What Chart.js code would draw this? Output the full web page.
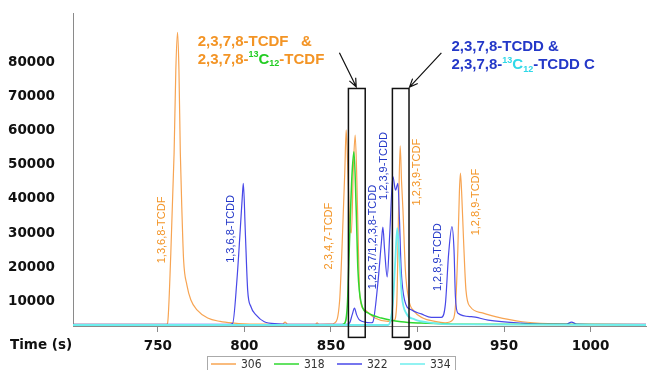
<!DOCTYPE html>
<html>
<head>
<meta charset="utf-8">
<script src="https://cdn.jsdelivr.net/npm/chart.js@4"></script>
<style>
  body { margin: 0; background: #fff; }
</style>
</head>
<body>
<canvas id="chrom" width="647" height="370"></canvas>
<script>
// Retention time (s) and intensity for each m/z trace
const t306 = [701, 740, 755, 755.6, 757.5, 759.4, 760.4, 761.4, 762.2, 763.0, 764.0, 764.9, 766.8, 769.1, 772.6, 778.8, 786, 794, 800, 810, 822, 823.5, 825, 841, 842, 843, 850, 852, 855, 856.5, 858, 858.8, 859.8, 860.8, 861.8, 863, 864, 865, 865.8, 866.7, 869.6, 875.4, 883, 886.5, 888, 889.2, 890.0, 890.8, 891.6, 893, 895, 898, 903, 910, 916, 920.5, 922, 923.3, 924.2, 924.8, 925.5, 926.6, 928, 930.5, 937.5, 945, 960.5, 980, 990, 1032];
const v306 = [3100, 3100, 3150, 3400, 24000, 53500, 78000, 89000, 78000, 53500, 35000, 22000, 14700, 10300, 7400, 5000, 4000, 3500, 3300, 3200, 3150, 3800, 3150, 3150, 3600, 3150, 3200, 3500, 10000, 27000, 48000, 60300, 48000, 33000, 30000, 50000, 58800, 45000, 27000, 11200, 7400, 5000, 4000, 4300, 9000, 40000, 55600, 45000, 36800, 19100, 10300, 7000, 5000, 4000, 3600, 4500, 9000, 25000, 42000, 47600, 42000, 28000, 13200, 8300, 6500, 5400, 3900, 3300, 3150, 3100];

const t318 = [701, 855, 857.8, 859.5, 860.7, 862.1, 863.3, 864.6, 865.6, 867.5, 871.4, 879.1, 890.6, 902.2, 915, 925, 1032];
const v318 = [3000, 3000, 3400, 9000, 27000, 46500, 53900, 36800, 19100, 9400, 6500, 5000, 3900, 3500, 3300, 3150, 3050];

const t322 = [701, 790, 793.2, 795.7, 797.6, 798.8, 799.4, 800.5, 801.9, 803.8, 806.7, 811.5, 819.3, 830, 858, 860.7, 862.3, 863.6, 864.8, 866.5, 873.3, 874.2, 877.1, 879.1, 880.0, 881.0, 882.5, 884, 885.8, 887.3, 888.7, 889.6, 890.6, 892.5, 896.4, 902.2, 908, 913.8, 916.1, 918, 919.9, 921.1, 921.9, 923.4, 931.1, 940.8, 960.1, 975, 986, 989, 992, 1032];
const v322 = [3100, 3100, 3400, 16200, 30900, 40700, 44600, 30900, 13200, 8300, 5900, 3900, 3300, 3100, 3100, 3500, 6000, 7900, 6000, 4400, 3600, 3800, 15200, 27000, 31700, 25000, 17100, 30000, 46600, 42600, 44600, 33800, 19100, 10300, 7400, 6200, 5200, 5200, 9000, 24000, 31900, 25000, 11300, 6400, 5400, 4400, 3500, 3200, 3200, 3800, 3200, 3100];

const t334 = [701, 883, 884.5, 885.8, 887.2, 888.3, 889.6, 891.0, 893.5, 898.3, 908, 920, 1032];
const v334 = [2950, 2950, 4500, 9300, 22100, 31400, 22100, 11300, 6400, 4600, 3600, 3100, 2950];

const xTicks = [750, 800, 850, 900, 950, 1000];
const yTicks = [10000, 20000, 30000, 40000, 50000, 60000, 70000, 80000];

const ORANGE = '#f39425', GREEN = '#22cc22', BLUE = '#2438c8', CYAN = '#2fd8e8';
const AXIS_FONT = { family: '"DejaVu Sans", Verdana, sans-serif', size: 13.5, weight: 'bold' };

function trace(label, ts, vs, color, order, width) {
  return {
    label,
    data: ts.map((t, i) => ({ x: t, y: vs[i] })),
    borderColor: color,
    borderWidth: width,
    pointRadius: 0,
    cubicInterpolationMode: 'monotone',
    order
  };
}

function drawRich(ctx, x0, y0, runs) {
  let x = x0;
  runs.forEach(r => {
    ctx.font = 'bold ' + r.size + 'px Arial';
    ctx.fillStyle = r.color;
    ctx.fillText(r.s, x, y0 + (r.dy || 0));
    x += ctx.measureText(r.s).width;
  });
}

function arrow(ctx, x1, y1, x2, y2) {
  ctx.beginPath();
  ctx.moveTo(x1, y1);
  ctx.lineTo(x2, y2);
  const a = Math.atan2(y2 - y1, x2 - x1);
  ctx.moveTo(x2 - 9 * Math.cos(a - 0.4), y2 - 9 * Math.sin(a - 0.4));
  ctx.lineTo(x2, y2);
  ctx.lineTo(x2 - 9 * Math.cos(a + 0.4), y2 - 9 * Math.sin(a + 0.4));
  ctx.stroke();
}

// peak names, boxes and arrows
const annot = {
  id: 'annot',
  afterDatasetsDraw(chart) {
    const { ctx, scales: { x, y } } = chart;
    ctx.save();

    ctx.strokeStyle = '#111';
    ctx.lineWidth = 1.5;
    [[860.1, 869.8], [885.5, 895.1]].forEach(b => {
      const x0 = x.getPixelForValue(b[0]), x1 = x.getPixelForValue(b[1]);
      const y0 = y.getPixelForValue(72500), y1 = y.getPixelForValue(-700);
      ctx.strokeRect(x0, y0, x1 - x0, y1 - y0);
    });
    ctx.lineWidth = 1.2;
    arrow(ctx, x.getPixelForValue(854.9), y.getPixelForValue(83000), x.getPixelForValue(864.6), y.getPixelForValue(73000));
    arrow(ctx, x.getPixelForValue(913.8), y.getPixelForValue(83000), x.getPixelForValue(895.4), y.getPixelForValue(72900));

    const rot = [
      ['1,3,6,8-TCDF', 752.3, 30900, ORANGE],
      ['1,3,6,8-TCDD', 792.2, 31200, BLUE],
      ['2,3,4,7-TCDF', 849.0, 29100, ORANGE],
      ['1,2,3,7/1,2,3,8-TCDD', 874.2, 28800, BLUE],
      ['1,2,3,9-TCDD', 880.8, 49700, BLUE],
      ['1,2,3,9-TCDF', 899.9, 47900, ORANGE],
      ['1,2,8,9-TCDD', 911.9, 22900, BLUE],
      ['1,2,8,9-TCDF', 934.0, 39100, ORANGE]
    ];
    ctx.font = '11px Arial';
    ctx.textAlign = 'center';
    ctx.textBaseline = 'middle';
    rot.forEach(r => {
      ctx.save();
      ctx.translate(x.getPixelForValue(r[1]), y.getPixelForValue(r[2]));
      ctx.rotate(-Math.PI / 2);
      ctx.fillStyle = r[3];
      ctx.fillText(r[0], 0, 0);
      ctx.restore();
    });

    ctx.textAlign = 'left';
    let lx = x.getPixelForValue(773);
    drawRich(ctx, lx, y.getPixelForValue(86260), [{ s: '2,3,7,8-TCDF   &', size: 15, color: ORANGE }]);
    drawRich(ctx, lx, y.getPixelForValue(80880), [
      { s: '2,3,7,8-', size: 15, color: ORANGE },
      { s: '13', size: 9, color: GREEN, dy: -5 },
      { s: 'C', size: 15, color: GREEN },
      { s: '12', size: 9, color: GREEN, dy: 4 },
      { s: '-TCDF', size: 15, color: ORANGE }
    ]);
    lx = x.getPixelForValue(919.6);
    drawRich(ctx, lx, y.getPixelForValue(84620), [{ s: '2,3,7,8-TCDD &', size: 15, color: BLUE }]);
    drawRich(ctx, lx, y.getPixelForValue(79400), [
      { s: '2,3,7,8-', size: 15, color: BLUE },
      { s: '13', size: 9, color: CYAN, dy: -5 },
      { s: 'C', size: 15, color: CYAN },
      { s: '12', size: 9, color: CYAN, dy: 4 },
      { s: '-TCDD C', size: 15, color: BLUE }
    ]);
    ctx.restore();
  },
  afterDraw(chart) {
    const { ctx, chartArea } = chart;
    ctx.save();
    ctx.fillStyle = '#111';
    ctx.font = 'bold 13.5px "DejaVu Sans", Verdana, sans-serif';
    ctx.textAlign = 'left';
    ctx.textBaseline = 'middle';
    ctx.fillText('Time (s)', 10, chartArea.bottom + 19);

    // boxed legend under the axis
    const top = chartArea.bottom + 30;
    ctx.strokeStyle = '#aaa';
    ctx.lineWidth = 1;
    ctx.strokeRect(207.5, top + 0.5, 248, 16);
    ctx.font = '12px "Liberation Sans Narrow", "DejaVu Sans Condensed", Arial';
    chart.data.datasets.forEach((ds, i) => {
      const sx = 211 + i * 63;
      ctx.strokeStyle = ds.borderColor;
      ctx.lineWidth = 1.5;
      ctx.beginPath();
      ctx.moveTo(sx, top + 8);
      ctx.lineTo(sx + 25, top + 8);
      ctx.stroke();
      ctx.fillStyle = '#333';
      ctx.fillText(ds.label, sx + 30, top + 8.5);
    });
    ctx.restore();
  }
};

new Chart(document.getElementById('chrom'), {
  type: 'line',
  data: {
    datasets: [
      trace('306', t306, v306, '#f7a452', 3, 1.2),
      trace('318', t318, v318, '#2fd82f', 1, 1.5),
      trace('322', t322, v322, '#4848e8', 2, 1.2),
      trace('334', t334, v334, '#6eeeee', 0, 1.8)
    ]
  },
  options: {
    responsive: false,
    animation: false,
    layout: { padding: { top: 13, right: 1, left: 0, bottom: 0 } },
    plugins: { legend: { display: false }, tooltip: { enabled: false } },
    scales: {
      x: {
        type: 'linear',
        min: 701,
        max: 1032,
        afterBuildTicks: s => { s.ticks = xTicks.map(v => ({ value: v })); },
        afterFit: s => { s.height = 44; },
        grid: { display: true, drawOnChartArea: false, drawTicks: true, tickLength: 6, color: '#8a8a8a' },
        border: { color: '#8a8a8a' },
        ticks: {
          autoSkip: false, maxRotation: 0, padding: 6, color: '#111',
          font: AXIS_FONT,
          callback: v => String(v)
        }
      },
      y: {
        min: 2650,
        max: 94700,
        afterBuildTicks: s => { s.ticks = yTicks.map(v => ({ value: v })); },
        afterFit: s => { s.width = 73; s.paddingTop = 0; s.paddingBottom = 0; },
        grid: { display: false, drawTicks: false },
        border: { color: '#8a8a8a' },
        ticks: {
          padding: 18, color: '#111',
          font: AXIS_FONT,
          callback: v => String(v)
        }
      }
    }
  },
  plugins: [annot]
});
</script>
</body>
</html>
